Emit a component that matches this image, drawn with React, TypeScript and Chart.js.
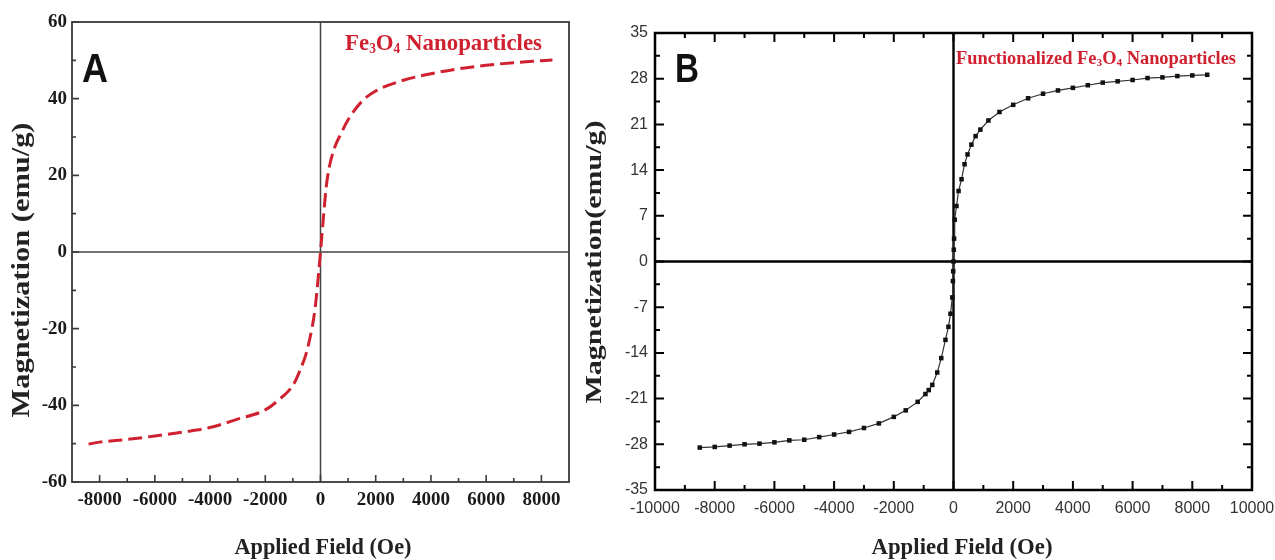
import React, { useEffect, useRef } from 'react';
import { Chart, registerables } from 'chart.js';

Chart.register(...registerables);

// ---------- Data: panel A (Fe3O4 nanoparticles) ----------
const fieldA = [-8400, -8000, -7000, -6000, -5000, -4000, -3000, -2000, -1500, -1000, -750, -500, -300, -200, -100, 0, 100, 200, 300, 500, 750, 1000, 1500, 2000, 3000, 4000, 5000, 6000, 7000, 8000, 8400];
const magA = [-50.1, -49.6, -48.9, -48.0, -47.0, -45.8, -43.6, -41.2, -38.5, -34.8, -31.0, -26.0, -19.5, -15.0, -8.0, 0, 8.5, 16.5, 21.5, 27, 31, 34.5, 39.3, 42, 44.8, 46.5, 47.8, 48.7, 49.4, 49.9, 50.1];

// ---------- Data: panel B (functionalized Fe3O4) ----------
const fieldB = [-8500, -8000, -7500, -7000, -6500, -6000, -5500, -5000, -4500, -4000, -3500, -3000, -2500, -2000, -1600, -1200, -940, -830, -710, -545, -410, -270, -170, -100, -40, -20, -10, 0, 10, 20, 40, 100, 170, 270, 370, 470, 600, 740, 900, 1170, 1540, 2000, 2500, 3000, 3500, 4000, 4500, 5000, 5500, 6000, 6500, 7000, 7500, 8000, 8500];
const magB = [-28.5, -28.4, -28.2, -28.0, -27.9, -27.7, -27.4, -27.3, -26.9, -26.5, -26.1, -25.5, -24.8, -23.8, -22.8, -21.5, -20.3, -19.7, -18.9, -17.0, -14.8, -12.0, -10.0, -8.0, -5.5, -3.0, -1.5, 0, 1.8, 3.5, 6.4, 8.5, 10.8, 12.6, 14.9, 16.4, 17.9, 19.2, 20.2, 21.6, 22.9, 24.0, 25.0, 25.7, 26.2, 26.6, 27.0, 27.4, 27.6, 27.8, 28.1, 28.2, 28.4, 28.5, 28.6];

// ---------- Tick values ----------
const xTicksA = [-8000, -6000, -4000, -2000, 0, 2000, 4000, 6000, 8000];
const xMinorA = [-7000, -5000, -3000, -1000, 1000, 3000, 5000, 7000];
const yTicksA = [-60, -40, -20, 0, 20, 40, 60];
const yMinorA = [-50, -30, -10, 10, 30, 50];

const xTicksB = [-10000, -8000, -6000, -4000, -2000, 0, 2000, 4000, 6000, 8000, 10000];
const xMinorB = [-9000, -7000, -5000, -3000, -1000, 1000, 3000, 5000, 7000, 9000];
const yTicksB = [-35, -28, -21, -14, -7, 0, 7, 14, 21, 28, 35];
const yMinorB = [-31.5, -24.5, -17.5, -10.5, -3.5, 3.5, 10.5, 17.5, 24.5, 31.5];

// ---------- Text ----------
const titleA = 'Nanoparticles';
const titleB = 'Functionalized';
const yTitleA = 'Magnetization (emu/g)';
const yTitleB = 'Magnetization(emu/g)';
const xTitle = 'Applied Field (Oe)';

const SERIF = '"Liberation Serif", "Times New Roman", serif';
const SANS = '"Liberation Sans", Arial, sans-serif';
const RED = '#cf2130';

type Seg = { t: string; s: number; dy?: number };
type TextItem = {
  segs: Seg[];
  family: string;
  weight: string;
  color: string;
  x: number;
  y: number;
  width: number;
  align: 'left' | 'center';
  rotate?: boolean;
};
type Deco = {
  frameColor: string;
  frameWidth: number;
  zeroColor: string;
  zeroWidth: number;
  tickColor: string;
  tickWidth: number;
  majorLen: number;
  minorLen: number;
  mirror: boolean;
  xMajor: number[];
  xMinor: number[];
  yMajor: number[];
  yMinor: number[];
  texts: TextItem[];
};

function drawText(ctx: CanvasRenderingContext2D, it: TextItem) {
  ctx.save();
  ctx.fillStyle = it.color;
  ctx.textAlign = 'left';
  ctx.textBaseline = it.rotate ? 'middle' : 'alphabetic';
  let total = 0;
  const widths = it.segs.map((sg) => {
    ctx.font = `${it.weight} ${sg.s}px ${it.family}`;
    const w = ctx.measureText(sg.t).width;
    total += w;
    return w;
  });
  const sx = it.width / total;
  ctx.translate(it.x, it.y);
  if (it.rotate) ctx.rotate(-Math.PI / 2);
  ctx.scale(sx, 1);
  let cur = it.align === 'center' ? -total / 2 : 0;
  it.segs.forEach((sg, i) => {
    ctx.font = `${it.weight} ${sg.s}px ${it.family}`;
    ctx.fillText(sg.t, cur, sg.dy || 0);
    cur += widths[i];
  });
  ctx.restore();
}

function makeDeco(d: Deco) {
  return {
    id: 'panelDeco',
    beforeDatasetsDraw(chart: any) {
      const { ctx, chartArea: a, scales } = chart;
      const x0 = scales.x.getPixelForValue(0);
      const y0 = scales.y.getPixelForValue(0);
      ctx.save();
      ctx.strokeStyle = d.zeroColor;
      ctx.lineWidth = d.zeroWidth;
      ctx.beginPath();
      ctx.moveTo(x0, a.top);
      ctx.lineTo(x0, a.bottom);
      ctx.moveTo(a.left, y0);
      ctx.lineTo(a.right, y0);
      ctx.stroke();
      ctx.restore();
    },
    afterDatasetsDraw(chart: any) {
      const { ctx, chartArea: a, scales } = chart;
      ctx.save();
      ctx.strokeStyle = d.tickColor;
      ctx.lineWidth = d.tickWidth;
      ctx.beginPath();
      const xt = (vals: number[], len: number) => {
        vals.forEach((v) => {
          const px = scales.x.getPixelForValue(v);
          ctx.moveTo(px, a.bottom);
          ctx.lineTo(px, a.bottom - len);
          if (d.mirror) {
            ctx.moveTo(px, a.top);
            ctx.lineTo(px, a.top + len);
          }
        });
      };
      const yt = (vals: number[], len: number) => {
        vals.forEach((v) => {
          const py = scales.y.getPixelForValue(v);
          ctx.moveTo(a.left, py);
          ctx.lineTo(a.left + len, py);
          if (d.mirror) {
            ctx.moveTo(a.right, py);
            ctx.lineTo(a.right - len, py);
          }
        });
      };
      xt(d.xMajor, d.majorLen);
      xt(d.xMinor, d.minorLen);
      yt(d.yMajor, d.majorLen);
      yt(d.yMinor, d.minorLen);
      ctx.stroke();
      ctx.strokeStyle = d.frameColor;
      ctx.lineWidth = d.frameWidth;
      ctx.strokeRect(a.left, a.top, a.right - a.left, a.bottom - a.top);
      ctx.restore();
    },
    afterDraw(chart: any) {
      d.texts.forEach((t) => drawText(chart.ctx, t));
    },
  };
}

function fixScale(w?: number, h?: number) {
  return (s: any) => {
    if (w !== undefined) s.width = w;
    if (h !== undefined) s.height = h;
    s.paddingLeft = 0;
    s.paddingRight = 0;
    s.paddingTop = 0;
    s.paddingBottom = 0;
  };
}

function setTicks(vals: number[]) {
  return (s: any) => {
    s.ticks = vals.map((value) => ({ value }));
  };
}

const decoA: Deco = {
  frameColor: '#3a3a3a',
  frameWidth: 1.8,
  zeroColor: '#444',
  zeroWidth: 1.5,
  tickColor: '#3a3a3a',
  tickWidth: 1.6,
  majorLen: 7,
  minorLen: 4,
  mirror: false,
  xMajor: xTicksA,
  xMinor: xMinorA,
  yMajor: yTicksA,
  yMinor: yMinorA,
  texts: [
    { segs: [{ t: 'A', s: 40 }], family: SANS, weight: 'bold', color: '#111', x: 82, y: 82, width: 26, align: 'left' },
    {
      segs: [
        { t: 'Fe', s: 24 },
        { t: '3', s: 14, dy: 3 },
        { t: 'O', s: 24 },
        { t: '4', s: 14, dy: 3 },
        { t: ' ' + titleA, s: 24 },
      ],
      family: SERIF, weight: 'bold', color: RED, x: 345, y: 50, width: 197, align: 'left',
    },
    { segs: [{ t: yTitleA, s: 25 }], family: SERIF, weight: 'bold', color: '#222', x: 23, y: 270, width: 295, align: 'center', rotate: true },
    { segs: [{ t: xTitle, s: 23 }], family: SERIF, weight: 'bold', color: '#222', x: 323, y: 554, width: 177, align: 'center' },
  ],
};

const decoB: Deco = {
  frameColor: '#000',
  frameWidth: 2.5,
  zeroColor: '#000',
  zeroWidth: 2.4,
  tickColor: '#000',
  tickWidth: 2,
  majorLen: 9,
  minorLen: 5,
  mirror: true,
  xMajor: xTicksB,
  xMinor: xMinorB,
  yMajor: yTicksB,
  yMinor: yMinorB,
  texts: [
    { segs: [{ t: 'B', s: 40 }], family: SANS, weight: 'bold', color: '#111', x: 675, y: 82, width: 24, align: 'left' },
    {
      segs: [
        { t: titleB + ' Fe', s: 18 },
        { t: '3', s: 11, dy: 2 },
        { t: 'O', s: 18 },
        { t: '4', s: 11, dy: 2 },
        { t: ' ' + titleA, s: 18 },
      ],
      family: SERIF, weight: 'bold', color: RED, x: 956, y: 64, width: 280, align: 'left',
    },
    { segs: [{ t: yTitleB, s: 23 }], family: SERIF, weight: 'bold', color: '#222', x: 595, y: 262, width: 283, align: 'center', rotate: true },
    { segs: [{ t: xTitle, s: 23 }], family: SERIF, weight: 'bold', color: '#222', x: 962, y: 554, width: 181, align: 'center' },
  ],
};

const tickFontA = { family: SERIF, weight: 'bold' as const, size: 19 };
const tickFontB = { family: SANS, size: 16 };

export default function App() {
  const refA = useRef<HTMLCanvasElement>(null);
  const refB = useRef<HTMLCanvasElement>(null);

  useEffect(() => {
    const chartA = new Chart(refA.current as HTMLCanvasElement, {
      type: 'scatter',
      data: {
        datasets: [
          {
            data: fieldA.map((x, i) => ({ x, y: magA[i] })),
            showLine: true,
            borderColor: RED,
            borderWidth: 3,
            borderDash: [14, 6],
            pointRadius: 0,
            cubicInterpolationMode: 'monotone',
          } as any,
        ],
      },
      options: {
        responsive: false,
        animation: false,
        events: [],
        layout: { padding: { left: 0, right: 706, top: 22, bottom: 0 } },
        plugins: { legend: { display: false }, tooltip: { enabled: false } },
        scales: {
          x: {
            type: 'linear',
            position: 'bottom',
            min: -9000,
            max: 9000,
            grid: { display: false, drawTicks: false },
            border: { display: false },
            afterFit: fixScale(undefined, 78),
            afterBuildTicks: setTicks(xTicksA),
            ticks: { callback: (v: any) => String(v), font: tickFontA, color: '#1a1a1a', padding: 7, autoSkip: false, maxRotation: 0, minRotation: 0 },
          },
          y: {
            type: 'linear',
            position: 'left',
            min: -60,
            max: 60,
            grid: { display: false, drawTicks: false },
            border: { display: false },
            afterFit: fixScale(72, undefined),
            afterBuildTicks: setTicks(yTicksA),
            ticks: { callback: (v: any) => String(v), font: tickFontA, color: '#1a1a1a', padding: 5, autoSkip: false },
          },
        },
      } as any,
      plugins: [makeDeco(decoA)],
    });

    const chartB = new Chart(refB.current as HTMLCanvasElement, {
      type: 'scatter',
      data: {
        datasets: [
          {
            data: fieldB.map((x, i) => ({ x, y: magB[i] })),
            showLine: true,
            borderColor: '#333',
            borderWidth: 1.2,
            pointStyle: 'rect',
            pointRadius: 3.2,
            pointBackgroundColor: '#111',
            pointBorderWidth: 0,
            tension: 0,
          } as any,
        ],
      },
      options: {
        responsive: false,
        animation: false,
        events: [],
        layout: { padding: { left: 570, right: 23, top: 33, bottom: 0 } },
        plugins: { legend: { display: false }, tooltip: { enabled: false } },
        scales: {
          x: {
            type: 'linear',
            position: 'bottom',
            min: -10000,
            max: 10000,
            grid: { display: false, drawTicks: false },
            border: { display: false },
            afterFit: fixScale(undefined, 70),
            afterBuildTicks: setTicks(xTicksB),
            ticks: { callback: (v: any) => String(v), font: tickFontB, color: '#333', padding: 9, autoSkip: false, maxRotation: 0, minRotation: 0 },
          },
          y: {
            type: 'linear',
            position: 'left',
            min: -35,
            max: 35,
            grid: { display: false, drawTicks: false },
            border: { display: false },
            afterFit: fixScale(85, undefined),
            afterBuildTicks: setTicks(yTicksB),
            ticks: { callback: (v: any) => String(v), font: tickFontB, color: '#333', padding: 7, autoSkip: false },
          },
        },
      } as any,
      plugins: [makeDeco(decoB)],
    });

    return () => {
      chartA.destroy();
      chartB.destroy();
    };
  }, []);

  const canvasStyle: React.CSSProperties = { position: 'absolute', left: 0, top: 0 };
  return (
    <div style={{ position: 'fixed', left: 0, top: 0, width: 1275, height: 560, background: '#fff', overflow: 'hidden' }}>
      <canvas ref={refA} width={1275} height={560} style={canvasStyle} />
      <canvas ref={refB} width={1275} height={560} style={canvasStyle} />
    </div>
  );
}
